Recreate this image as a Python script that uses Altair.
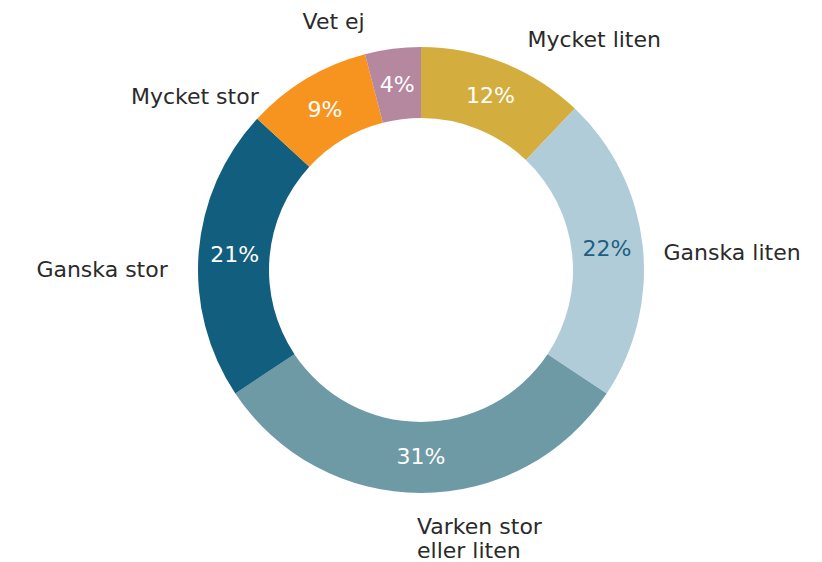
import altair as alt
import pandas as pd

categories = ["Mycket liten", "Ganska liten", "Varken stor eller liten",
              "Ganska stor", "Mycket stor", "Vet ej"]
values = [12, 22, 31, 21, 9, 4]
pct_labels = ["12%", "22%", "31%", "21%", "9%", "4%"]
display_labels = ["Mycket liten", "Ganska liten", "Varken stor\neller liten",
                  "Ganska stor", "Mycket stor", "Vet ej"]
colors = ["#D3AE3F", "#B0CCD9", "#6D9AA5", "#115E7E", "#F79420", "#B5889F"]

df = pd.DataFrame({
    "cat": categories,
    "value": values,
    "pct": pct_labels,
    "label": display_labels,
    "order": list(range(len(categories))),
})

total = sum(values)
CX, CY = 413, 262
FONT = "DejaVu Sans"

theta_scale = alt.Scale(domain=[0, total], range=[0, 6.283185307179586])

base = alt.Chart(df).transform_window(
    cum="sum(value)", sort=[{"field": "order"}], frame=[None, 0]
).transform_calculate(
    start="datum.cum - datum.value",
    mid="datum.cum - datum.value / 2",
)

arcs = base.mark_arc(radius=223, radius2=152).encode(
    theta=alt.Theta("start:Q", scale=theta_scale),
    theta2="cum:Q",
    color=alt.Color("cat:N", scale=alt.Scale(domain=categories, range=colors), legend=None),
    x=alt.value(CX),
    y=alt.value(CY),
)

pcts = base.mark_text(radius=187, font=FONT, fontSize=22, baseline="middle", align="center").encode(
    theta=alt.Theta("mid:Q", scale=theta_scale),
    text="pct:N",
    color=alt.condition(alt.datum.cat == "Ganska liten", alt.value("#1B5F82"), alt.value("white")),
    x=alt.value(CX),
    y=alt.value(CY),
)

# label style: align, baseline, dx, dy (offsets from radius-240 position)
label_style = {
    "Mycket liten": ("center", "middle", 84, -7),
    "Ganska liten": ("left", "middle", 4, 10),
    "Varken stor eller liten": ("left", "top", -4, 7),
    "Ganska stor": ("right", "middle", -14, 19),
    "Mycket stor": ("right", "middle", -39, 33),
    "Vet ej": ("center", "middle", -57, -10),
}

layers = [arcs, pcts]
for cat in categories:
    al, bl, dx, dy = label_style[cat]
    layers.append(
        base.transform_filter(alt.datum.cat == cat).mark_text(
            radius=240, font=FONT, fontSize=22, align=al, baseline=bl,
            dx=dx, dy=dy, color="#2A2A2A", lineBreak="\n", lineHeight=24,
        ).encode(
            theta=alt.Theta("mid:Q", scale=theta_scale),
            text="label:N",
            x=alt.value(CX),
            y=alt.value(CY),
        )
    )

chart = alt.layer(*layers).properties(
    width=806, height=554, autosize=alt.AutoSizeParams(type="none"), padding=0,
    background="white",
).configure_view(stroke=None, strokeWidth=0)

chart.save("out.html", embed_options={"renderer": "svg", "actions": False})
